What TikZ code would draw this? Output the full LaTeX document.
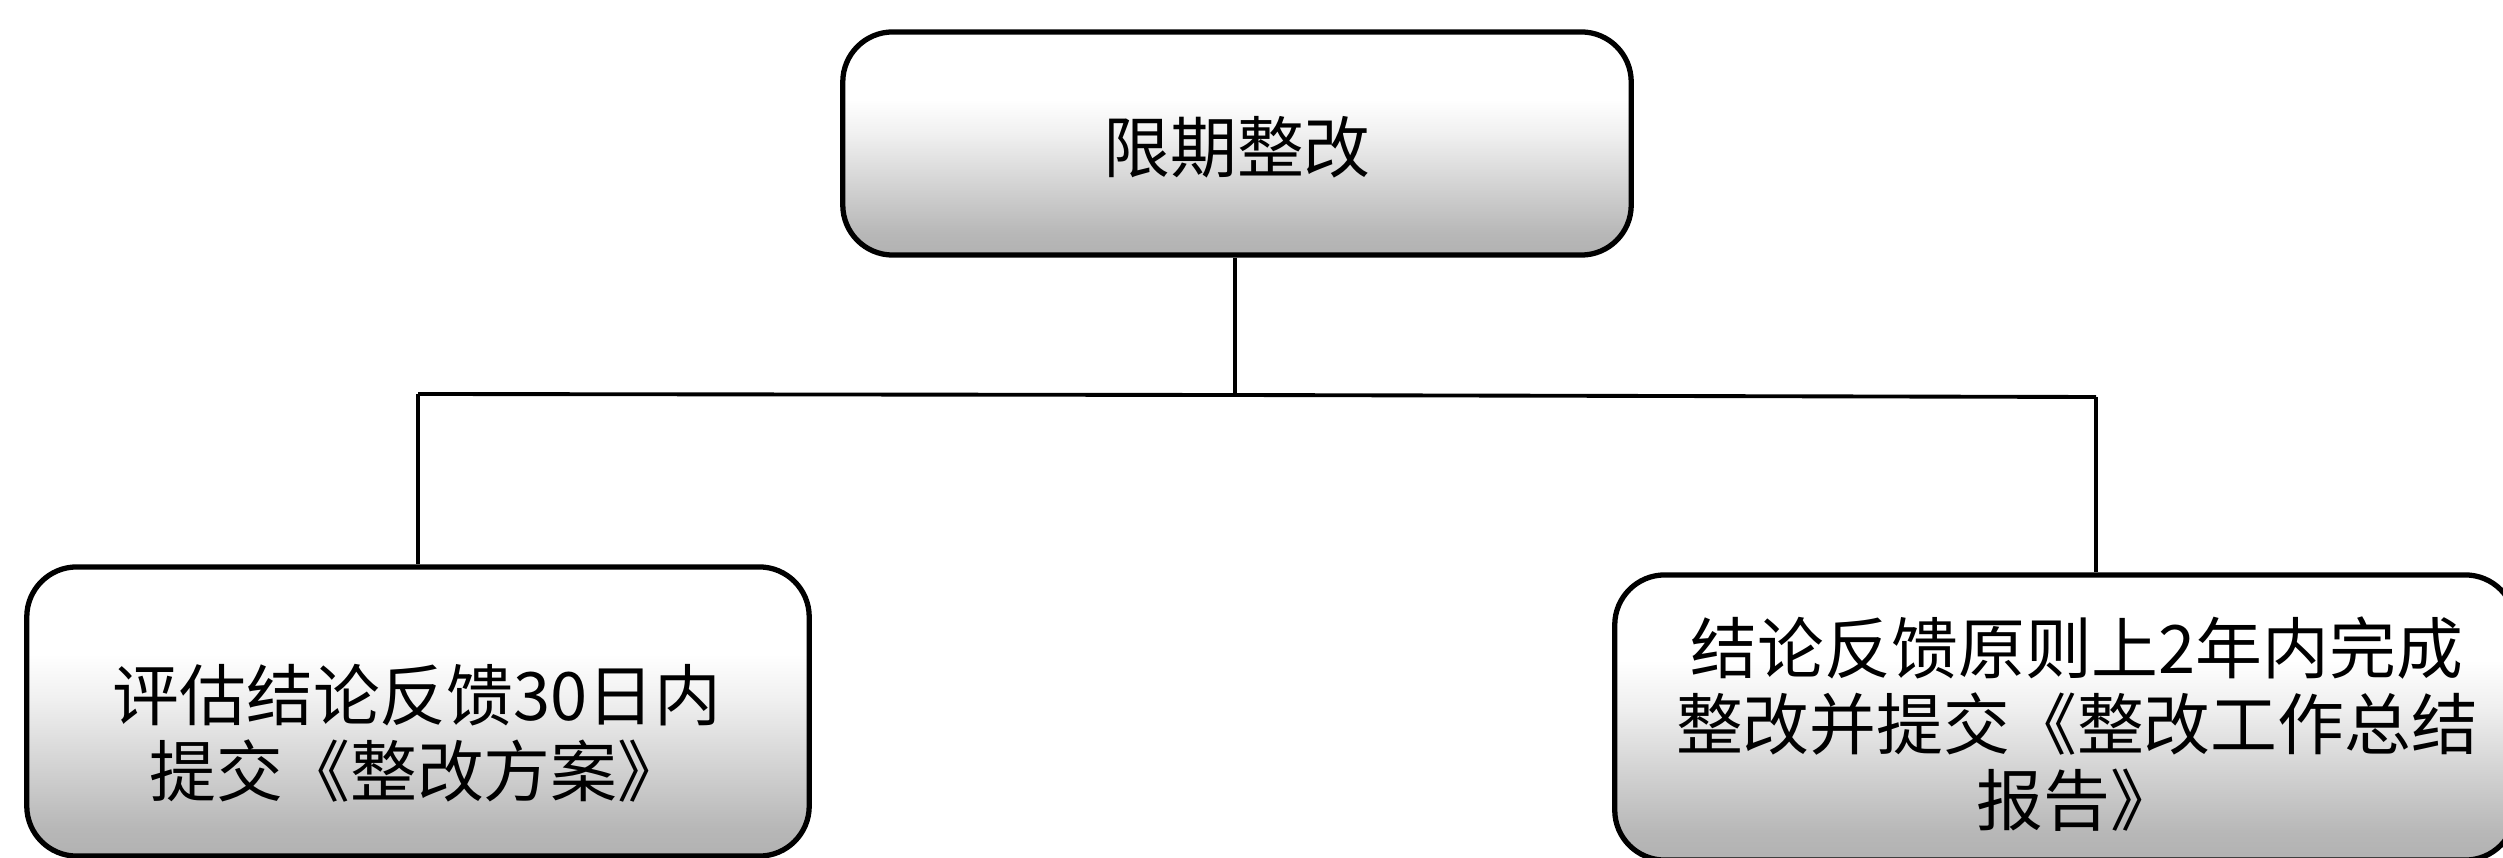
\documentclass[tikz,border=0pt]{standalone}
\usepackage{fontspec}
\newfontfamily\cjk{Noto Sans CJK SC}
\pgfdeclareverticalshading{boxfade}{100bp}{color(0bp)=(black!42); color(30bp)=(black!28); color(52bp)=(black!6); color(60bp)=(white); color(100bp)=(white)}
\begin{document}
\begin{tikzpicture}[x=0.01cm,y=-0.01cm,
  boxstyle/.style={draw=black, line width=1.5pt, rounded corners=0.5cm, shading=boxfade, inner sep=0pt},
  txt/.style={font=\cjk\fontsize{19}{21.5}\selectfont, align=center, inner sep=0pt},
  conn/.style={draw=black, line width=1.1pt}]
\useasboundingbox (0,0) rectangle (2503,858);
% boxes
\node[boxstyle, minimum width=7.88cm, minimum height=2.23cm] (top) at (1237,143.5) {};
\node[boxstyle, minimum width=7.82cm, minimum height=2.89cm] (left) at (418,711.5) {};
\node[boxstyle, minimum width=9.0cm, minimum height=2.85cm] (right) at (2065,717.5) {};
% texts
\node[txt] (toptxt) at (1237,147) {限期整改};
\node[txt] (lefttxt) at (417,733) {评估结论反馈30日内\\提交《整改方案》};
\node[txt] (righttxt) at (2077,724) {结论反馈原则上2年内完成\\整改并提交《整改工作总结\\报告》};
% connectors
\coordinate (jl) at (418,394);
\coordinate (jr) at (2096,397);
\coordinate (jm) at (1235,395);
\draw[conn] (top.south -| jm) -- (jm);
\draw[conn] (jl) -- (jm) -- (jr);
\draw[conn] (jl) -- (jl |- left.north);
\draw[conn] (jr) -- (jr |- right.north);
\end{tikzpicture}
\end{document}
